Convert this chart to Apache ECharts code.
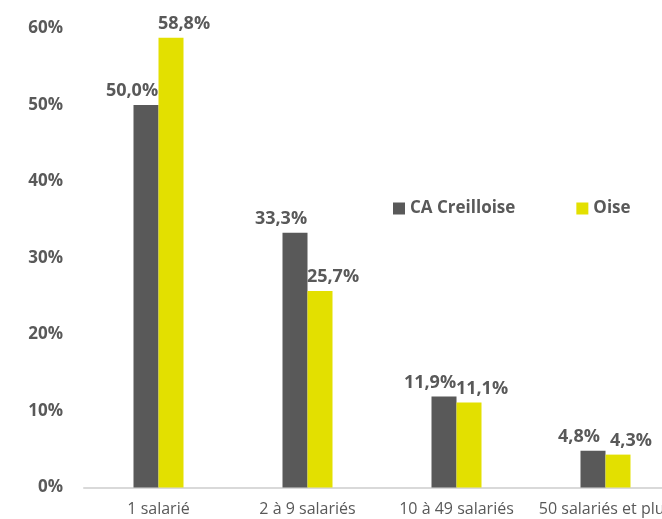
<!DOCTYPE html>
<html>
<head>
<meta charset="utf-8">
<script src="https://cdn.jsdelivr.net/npm/echarts@6/dist/echarts.min.js"></script>
<style>
  html, body { margin: 0; padding: 0; background: #fff; overflow: hidden; }
  #main { width: 680px; height: 519px; }
</style>
</head>
<body>
<div id="main"></div>
<script>
var categories = ["1 salarié", "2 à 9 salariés", "10 à 49 salariés", "50 salariés et plus"];
var creilloise = [50.0, 33.3, 11.9, 4.8];
var oise = [58.8, 25.7, 11.1, 4.3];
var yTicks = [0, 10, 20, 30, 40, 50, 60];

// the plot runs past the right edge of the 662px window, as in the original
var myChart = echarts.init(document.getElementById("main"));
var textColor = "#595959";
var fontFam = "'Open Sans', 'Noto Sans', sans-serif";

function fmt(p) {
  return p.value.toFixed(1).replace(".", ",") + "%";
}

var option = {
  animation: false,
  textStyle: { fontFamily: fontFam },
  legend: {
    left: 388,
    top: 195,
    itemWidth: 12,
    itemHeight: 12,
    itemGap: 61,
    icon: "rect",
    textStyle: { color: textColor, fontSize: 17, fontWeight: "bold", fontFamily: fontFam },
    data: ["CA Creilloise", "Oise"]
  },
  grid: { left: 84, top: 28.5, right: 0, height: 459, containLabel: false },
  xAxis: {
    type: "category",
    data: categories,
    axisTick: { show: false },
    axisLine: { lineStyle: { color: "#d9d9d9", width: 2 } },
    axisLabel: { color: textColor, fontSize: 16, margin: 14, fontFamily: fontFam, interval: 0 }
  },
  yAxis: {
    type: "value",
    min: yTicks[0],
    max: yTicks[yTicks.length - 1],
    interval: 10,
    splitLine: { show: false },
    axisLine: { show: false },
    axisTick: { show: false },
    axisLabel: {
      color: textColor, fontSize: 17, fontWeight: "bold", margin: 21, fontFamily: fontFam,
      formatter: "{value}%"
    }
  },
  series: [
    {
      name: "CA Creilloise",
      type: "bar",
      data: creilloise,
      barWidth: 25,
      barGap: "0%",
      itemStyle: { color: "#595959" },
      label: {
        show: true, position: "top", distance: 5, offset: [-14, 0],
        color: textColor, fontSize: 18, fontWeight: "bold", fontFamily: fontFam,
        formatter: fmt
      }
    },
    {
      name: "Oise",
      type: "bar",
      data: oise,
      barWidth: 25,
      itemStyle: { color: "#e3e000" },
      label: {
        show: true, position: "top", distance: 5, offset: [13, 0],
        color: textColor, fontSize: 18, fontWeight: "bold", fontFamily: fontFam,
        formatter: fmt
      }
    }
  ]
};
myChart.setOption(option);
</script>
</body>
</html>
